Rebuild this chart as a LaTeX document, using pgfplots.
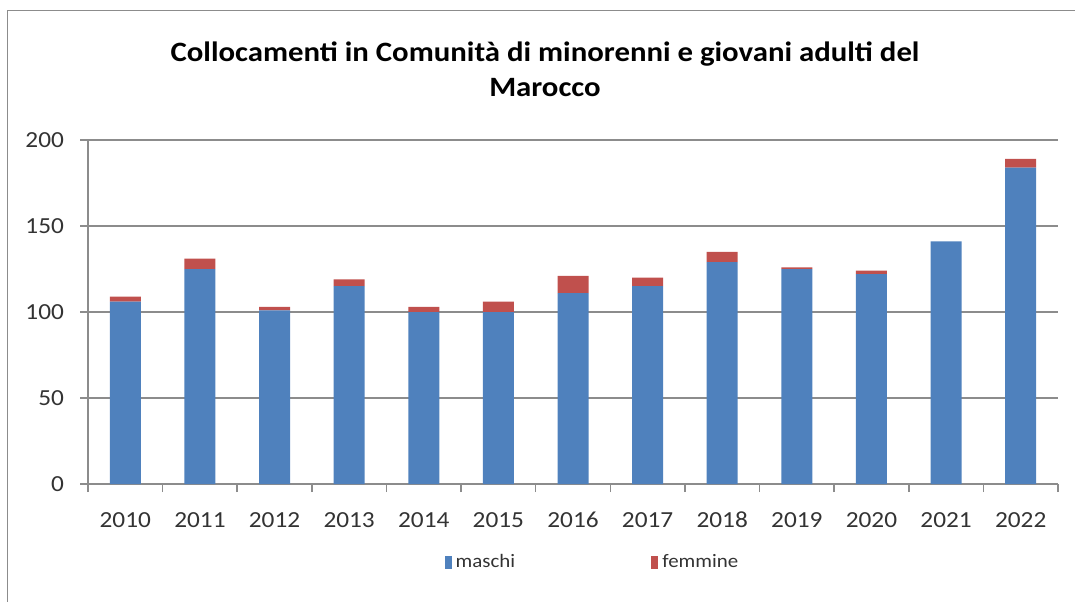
\documentclass[border=0pt]{standalone}
\usepackage{pgfplots}
\pgfplotsset{compat=1.18}
\usepackage{fontspec}
\setmainfont[FakeStretch=1.1]{Carlito}
\definecolor{mblue}{HTML}{4F81BD}
\definecolor{mred}{HTML}{C0504D}
\definecolor{gridgray}{HTML}{8C8C8C}
\begin{document}
\begin{tikzpicture}
\useasboundingbox (0,0) rectangle (537.5pt,-300.5pt);
\draw[gray!90, line width=0.8pt] (3.7pt,-301pt) -- (3.7pt,-5.3pt) -- (538pt,-5.3pt);
\node[font=\bfseries\fontsize{14}{15}\selectfont, align=center] at (272.5pt,-34.5pt) {Collocamenti in Comunità di minorenni e giovani adulti del\\[2.5pt]Marocco};
\begin{axis}[
  at={(44pt,-242pt)}, anchor=south west,
  scale only axis, width=485pt, height=172pt,
  ymin=0, ymax=200, ytick={0,50,...,200},
  xmin=-0.5, xmax=12.5,
  xtick={0,...,12},
  xticklabels={2010,2011,2012,2013,2014,2015,2016,2017,2018,2019,2020,2021,2022},
  minor xtick={-0.5,0.5,...,12.5},
  axis x line*=bottom, axis y line*=left,
  axis line style={gridgray, line width=0.8pt, -},
  ymajorgrids, grid style={gridgray, line width=0.8pt},
  tick align=outside,
  major tick length=4pt, minor tick length=4pt,
  x tick style={draw=none},
  minor x tick style={draw=gridgray, line width=0.8pt},
  y tick style={gridgray, line width=0.8pt},
  xtick pos=bottom, ytick pos=left,
  ticklabel style={font=\fontsize{11.5}{13}\selectfont, text=black!80},
  /pgf/number format/assume math mode=true,
  xticklabel style={yshift=-6.5pt},
  yticklabel style={xshift=-4.5pt},
  ybar stacked, bar width=15.5pt,
  legend style={at={(0.521,-0.228)}, anchor=center, draw=none, fill=none,
    legend columns=2, font=\fontsize{9.5}{11}\selectfont, text=black!80,
    /tikz/every even column/.append style={column sep=66pt}},
  legend image code/.code={\fill[#1] (0pt,-3.3pt) rectangle (3.6pt,3.3pt);},
]
\addplot[fill=mblue, draw=none] coordinates {(0,106) (1,125) (2,101) (3,115) (4,100) (5,100) (6,111) (7,115) (8,129) (9,125) (10,122) (11,141) (12,184)};
\addplot[fill=mred, draw=none] coordinates {(0,3) (1,6) (2,2) (3,4) (4,3) (5,6) (6,10) (7,5) (8,6) (9,1) (10,2) (11,0) (12,5)};
\legend{maschi,femmine}
\end{axis}
\end{tikzpicture}
\end{document}
